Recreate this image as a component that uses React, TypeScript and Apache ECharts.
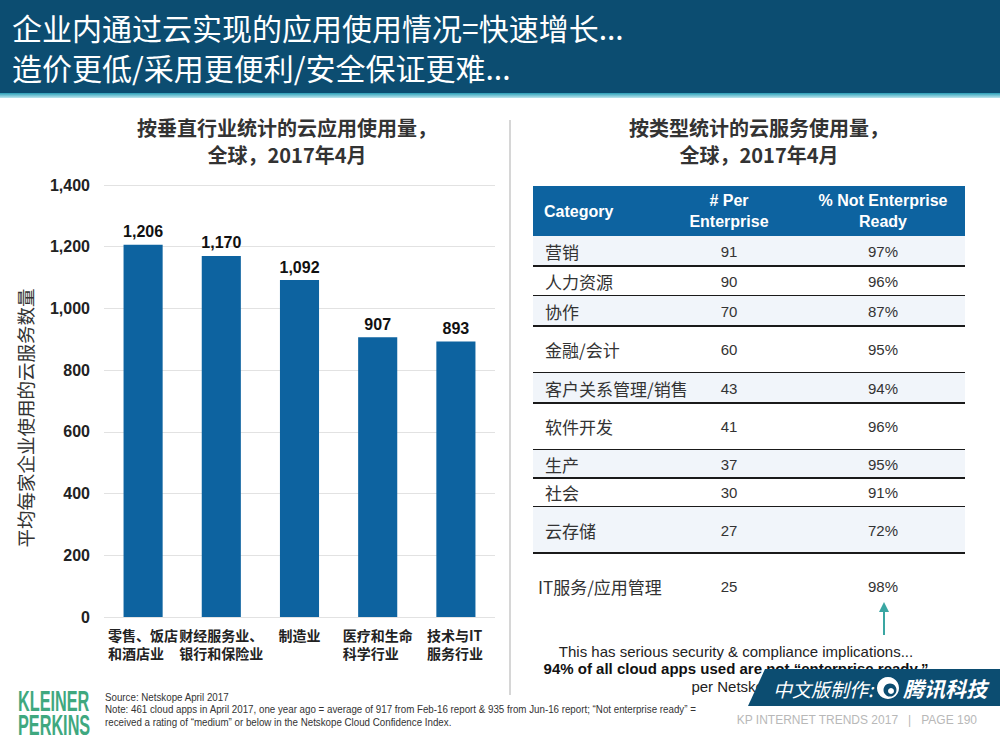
import React, { useEffect, useRef } from "react";
import * as echarts from "echarts";

// ---- Data ----
const headerLines = ["企业内通过云实现的应用使用情况=快速增长...", "造价更低/采用更便利/安全保证更难..."];
const leftTitle = ["按垂直行业统计的云应用使用量，", "全球，2017年4月"];
const rightTitle = ["按类型统计的云服务使用量，", "全球，2017年4月"];

const industries = ["零售、饭店\n和酒店业", "财经服务业、\n银行和保险业", "制造业", "医疗和生命\n科学行业", "技术与IT\n服务行业"];
const appsPerEnterprise = [1206, 1170, 1092, 907, 893];
const yAxisName = "平均每家企业使用的云服务数量";

const tableHeaders = ["Category", "# Per\nEnterprise", "% Not Enterprise\nReady"];
const serviceCategories = ["营销", "人力资源", "协作", "金融/会计", "客户关系管理/销售", "软件开发", "生产", "社会", "云存储", "IT服务/应用管理"];
const perEnterprise = [91, 90, 70, 60, 43, 41, 37, 30, 27, 25];
const notReadyPct = ["97%", "96%", "87%", "95%", "94%", "96%", "95%", "91%", "72%", "98%"];

const noteLines = [
  "This has serious security & compliance implications...",
  "94% of all cloud apps used are not \u201centerprise ready.\u201d",
  "per Netskope",
];
const sourceLines = [
  "Source: Netskope April 2017",
  "Note: 461 cloud apps in April 2017, one year ago = average of 917 from Feb-16 report & 935 from Jun-16 report; \u201cNot enterprise ready\u201d =",
  "received a rating of \u201cmedium\u201d or below in the Netskope Cloud Confidence Index.",
];
const footerText = "KP INTERNET TRENDS 2017   |   PAGE 190";

// ---- Layout (not data) ----
const rowBounds = [236, 266, 296, 326, 373, 403, 450, 478, 507, 553, 620];
const tableLeft = 533;
const tableRight = 965;
const col2X = 729;
const col3X = 883;

const CJK = '"Noto Sans CJK SC", "Noto Sans", sans-serif';
const SANS = '"Liberation Sans", Arial, "Noto Sans CJK SC", sans-serif';
const DARK = "#0c4d71";
const BAR = "#0d63a0";

function labelWidth(s: string) {
  let w = 0;
  for (const ch of s) w += /[\x00-\x7f]/.test(ch) ? 8 : 14;
  return w;
}

export default function App() {
  const ref = useRef<HTMLDivElement>(null);

  useEffect(() => {
    if (!ref.current) return;
    const chart = echarts.init(ref.current, undefined, { renderer: "svg" });

    const rich: Record<string, any> = {};
    industries.forEach((s) => {
      const w = Math.max(...s.split("\n").map(labelWidth));
      rich["w" + w] = { width: w, align: "left", fontSize: 14, fontWeight: "bold", color: "#222", lineHeight: 18, fontFamily: CJK };
    });

    const graphics: any[] = [];
    // header
    graphics.push({ type: "rect", shape: { x: 0, y: 0, width: 1000, height: 93 }, style: { fill: DARK }, silent: true });
    graphics.push({
      type: "rect",
      shape: { x: 0, y: 93, width: 1000, height: 5 },
      style: {
        fill: new echarts.graphic.LinearGradient(0, 0, 0, 1, [
          { offset: 0, color: "#2a9fb8" },
          { offset: 1, color: "#bfe6ee" },
        ]),
      },
    });
    headerLines.forEach((t, i) => {
      graphics.push({
        type: "text",
        style: { text: t, x: 12, y: 27 + i * 40, fill: "#ffffff", fontSize: 30, fontFamily: CJK, verticalAlign: "middle", align: "left" },
      });
    });
    // titles
    leftTitle.forEach((t, i) => {
      graphics.push({
        type: "text",
        style: { text: t, x: 287, y: 127 + i * 27, fill: "#333", fontSize: 20, fontWeight: "bold", fontFamily: CJK, align: "center", verticalAlign: "middle" },
      });
    });
    rightTitle.forEach((t, i) => {
      graphics.push({
        type: "text",
        style: { text: t, x: 759, y: 127 + i * 27, fill: "#333", fontSize: 20, fontWeight: "bold", fontFamily: CJK, align: "center", verticalAlign: "middle" },
      });
    });
    // divider
    graphics.push({ type: "line", shape: { x1: 510, y1: 120, x2: 510, y2: 695 }, style: { stroke: "#c8c8c8", lineWidth: 1.5 } });

    // table header
    graphics.push({ type: "rect", shape: { x: tableLeft, y: 186, width: tableRight - tableLeft, height: 50 }, style: { fill: BAR } });
    graphics.push({
      type: "text",
      style: { text: tableHeaders[0], x: 544, y: 211, fill: "#fff", fontSize: 16, fontWeight: "bold", fontFamily: SANS, verticalAlign: "middle" },
    });
    graphics.push({
      type: "text",
      style: { text: tableHeaders[1], x: col2X, y: 211, fill: "#fff", fontSize: 16, fontWeight: "bold", fontFamily: SANS, align: "center", verticalAlign: "middle", lineHeight: 21 },
    });
    graphics.push({
      type: "text",
      style: { text: tableHeaders[2], x: col3X, y: 211, fill: "#fff", fontSize: 16, fontWeight: "bold", fontFamily: SANS, align: "center", verticalAlign: "middle", lineHeight: 21 },
    });
    // rows
    serviceCategories.forEach((c, i) => {
      const y0 = rowBounds[i];
      const y1 = rowBounds[i + 1];
      const cy = (y0 + y1) / 2;
      const last = i === serviceCategories.length - 1;
      if (i % 2 === 0 && !last) {
        graphics.push({ type: "rect", shape: { x: tableLeft, y: y0, width: tableRight - tableLeft, height: y1 - y0 }, style: { fill: "#f1f5fa" } });
      }
      graphics.push({
        type: "text",
        style: { text: c, x: last ? 538 : 545, y: cy, fill: "#333", fontSize: 17, fontFamily: CJK, verticalAlign: "middle" },
      });
      graphics.push({
        type: "text",
        style: { text: String(perEnterprise[i]), x: col2X, y: cy, fill: "#333", fontSize: 15, fontFamily: SANS, align: "center", verticalAlign: "middle" },
      });
      graphics.push({
        type: "text",
        style: { text: notReadyPct[i], x: col3X, y: cy, fill: "#333", fontSize: 15, fontFamily: SANS, align: "center", verticalAlign: "middle" },
      });
      if (!last) {
        graphics.push({ type: "line", shape: { x1: tableLeft, y1: y1, x2: tableRight, y2: y1 }, style: { stroke: "#1a1a1a", lineWidth: 2 } });
      }
    });
    // arrow
    graphics.push({ type: "line", shape: { x1: 884, y1: 635, x2: 884, y2: 610 }, style: { stroke: "#3aa6a2", lineWidth: 2 } });
    graphics.push({ type: "polygon", shape: { points: [[884, 602], [879, 612], [889, 612]] }, style: { fill: "#3aa6a2" } });
    // notes
    graphics.push({ type: "text", style: { text: noteLines[0], x: 736, y: 651, fill: "#222", fontSize: 15, fontFamily: SANS, align: "center", verticalAlign: "middle" } });
    graphics.push({ type: "text", style: { text: noteLines[1], x: 736, y: 668, fill: "#111", fontSize: 15, fontWeight: "bold", fontFamily: SANS, align: "center", verticalAlign: "middle" } });
    graphics.push({ type: "text", style: { text: noteLines[2], x: 736, y: 686, fill: "#222", fontSize: 15, fontFamily: SANS, align: "center", verticalAlign: "middle" } });
    // badge
    graphics.push({ type: "polygon", shape: { points: [[765, 669], [1000, 669], [1000, 706], [748, 706]] }, style: { fill: DARK } });
    graphics.push({ type: "text", style: { text: "中文版制作:", x: 773, y: 688, fill: "#fff", fontSize: 19, fontFamily: CJK, fontStyle: "italic", verticalAlign: "middle" } });
    graphics.push({ type: "circle", shape: { cx: 888, cy: 688, r: 11 }, style: { fill: "#fff" } });
    graphics.push({ type: "circle", shape: { cx: 890, cy: 690, r: 6.5 }, style: { fill: DARK } });
    graphics.push({ type: "circle", shape: { cx: 891, cy: 691, r: 3 }, style: { fill: "#fff" } });
    graphics.push({ type: "text", style: { text: "腾讯科技", x: 903, y: 688, fill: "#fff", fontSize: 21, fontWeight: "bold", fontFamily: CJK, fontStyle: "italic", verticalAlign: "middle" } });
    // footer
    graphics.push({ type: "text", style: { text: footerText, x: 977, y: 720, fill: "#b8b8b8", fontSize: 12, fontFamily: SANS, align: "right", verticalAlign: "middle" } });
    // logo
    graphics.push({ type: "text", x: 18, y: 701, scaleX: 0.56, style: { text: "KLEINER", x: 0, y: 0, fill: "#3fa87f", fontSize: 29, fontWeight: "bold", fontFamily: SANS, verticalAlign: "middle" } });
    graphics.push({ type: "text", x: 18, y: 725, scaleX: 0.56, style: { text: "PERKINS", x: 0, y: 0, fill: "#3fa87f", fontSize: 29, fontWeight: "bold", fontFamily: SANS, verticalAlign: "middle" } });
    sourceLines.forEach((t, i) => {
      graphics.push({ type: "text", x: 105, y: 697 + i * 12.5, scaleX: 0.93, style: { text: t, x: 0, y: 0, fill: "#333", fontSize: 10.5, fontFamily: SANS, verticalAlign: "middle" } });
    });

    chart.setOption({
      animation: false,
      backgroundColor: "#ffffff",
      grid: { left: 104, right: 505, top: 185, bottom: 133, containLabel: false },
      xAxis: {
        type: "category",
        data: industries,
        axisLine: { show: false },
        axisTick: { show: false },
        axisLabel: {
          interval: 0,
          margin: 9,
          formatter: (v: string) => {
            const w = Math.max(...v.split("\n").map(labelWidth));
            return v
              .split("\n")
              .map((l) => `{w${w}|${l}}`)
              .join("\n");
          },
          rich,
        },
      },
      yAxis: {
        type: "value",
        min: 0,
        max: 1400,
        interval: 200,
        name: yAxisName,
        nameLocation: "middle",
        nameGap: 70,
        nameRotate: 90,
        nameTextStyle: { fontSize: 18.5, color: "#333", fontFamily: CJK, padding: [0, 34, 0, 0] },
        axisLine: { show: false },
        axisTick: { show: false },
        axisLabel: {
          margin: 14,
          fontSize: 16,
          fontWeight: "bold",
          color: "#222",
          fontFamily: SANS,
          formatter: (v: number) => v.toLocaleString("en-US"),
        },
        splitLine: { lineStyle: { color: "#e2e2e2", width: 1 } },
      },
      series: [
        {
          type: "bar",
          data: appsPerEnterprise,
          barWidth: "50%",
          itemStyle: { color: BAR },
          label: {
            show: true,
            position: "top",
            distance: 5,
            fontSize: 16,
            fontWeight: "bold",
            color: "#111",
            fontFamily: SANS,
            formatter: (p: any) => Number(p.value).toLocaleString("en-US"),
          },
        },
      ],
      graphic: graphics,
    });

    return () => chart.dispose();
  }, []);

  return <div ref={ref} style={{ position: "absolute", left: 0, top: 0, width: 1000, height: 750 }} />;
}
